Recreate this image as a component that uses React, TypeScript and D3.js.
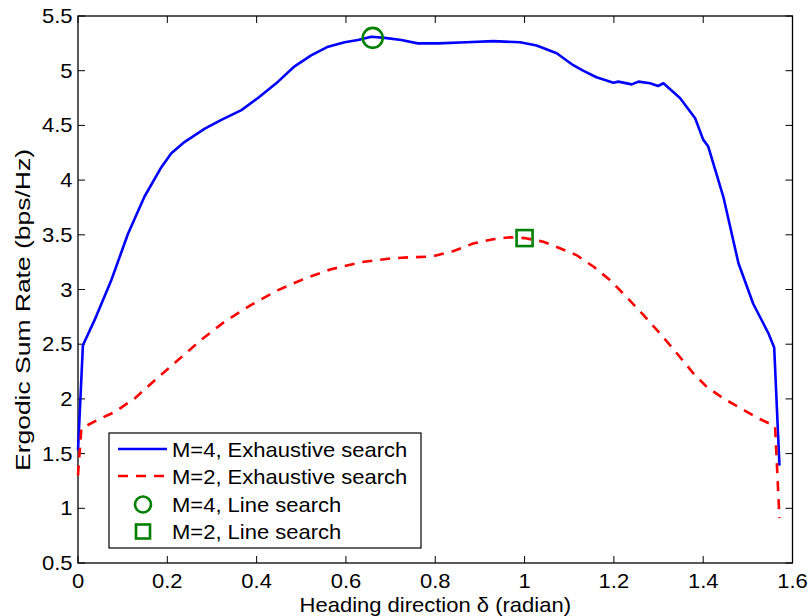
import React from "react";
import * as d3 from "d3";

// Heading direction (radian) vs ergodic sum rate
const m4X = [0, 0.011, 0.037, 0.075, 0.112, 0.149, 0.187, 0.209, 0.239, 0.284, 0.321, 0.366, 0.403, 0.448, 0.485, 0.522, 0.56, 0.597, 0.627, 0.657, 0.687, 0.724, 0.761, 0.806, 0.87, 0.93, 0.99, 1.027, 1.072, 1.109, 1.131, 1.161, 1.199, 1.21, 1.24, 1.255, 1.281, 1.299, 1.311, 1.348, 1.382, 1.4, 1.411, 1.445, 1.479, 1.512, 1.546, 1.559, 1.5708];
const m4Rate = [1.53, 2.49, 2.72, 3.09, 3.51, 3.85, 4.12, 4.245, 4.35, 4.47, 4.55, 4.64, 4.75, 4.9, 5.04, 5.14, 5.22, 5.26, 5.28, 5.31, 5.3, 5.28, 5.25, 5.25, 5.26, 5.27, 5.26, 5.23, 5.16, 5.05, 5.0, 4.94, 4.89, 4.9, 4.875, 4.9, 4.885, 4.86, 4.885, 4.75, 4.565, 4.37, 4.31, 3.85, 3.24, 2.87, 2.6, 2.47, 1.39];

const m2X = [0, 0.0075, 0.045, 0.082, 0.127, 0.172, 0.224, 0.276, 0.328, 0.388, 0.448, 0.508, 0.567, 0.634, 0.702, 0.746, 0.79, 0.84, 0.885, 0.93, 0.967, 1.0, 1.042, 1.079, 1.116, 1.154, 1.191, 1.228, 1.266, 1.303, 1.341, 1.378, 1.408, 1.445, 1.49, 1.527, 1.561, 1.5708];
const m2Rate = [1.3, 1.73, 1.81, 1.88, 2.005, 2.17, 2.355, 2.54, 2.705, 2.86, 2.995, 3.1, 3.185, 3.25, 3.285, 3.295, 3.3, 3.35, 3.42, 3.46, 3.477, 3.47, 3.437, 3.377, 3.315, 3.21, 3.087, 2.934, 2.767, 2.6, 2.417, 2.234, 2.11, 2.005, 1.9, 1.816, 1.75, 0.91];

// Line-search results
const m4Line = { x: 0.66, y: 5.3 };
const m2Line = { x: 1.0, y: 3.47 };

const xTicks = [0, 0.2, 0.4, 0.6, 0.8, 1, 1.2, 1.4, 1.6];
const yTicks = [0.5, 1, 1.5, 2, 2.5, 3, 3.5, 4, 4.5, 5, 5.5];

const legendLabels = [
  "M=4, Exhaustive search",
  "M=2, Exhaustive search",
  "M=4, Line search",
  "M=2, Line search",
];

const W = 810;
const H = 616;
const L = 78;
const R = 792.5;
const T = 16;
const B = 563;
const FONT = "'Liberation Sans', Arial, Helvetica, sans-serif";
const FS = 20;
const GREEN = "#008000";

function Label(props: {
  x: number;
  y: number;
  anchor?: string;
  rotate?: number;
  size?: number;
  stretch?: number;
  children: React.ReactNode;
}) {
  const { x, y, anchor = "start", rotate = 0, size = FS, stretch = 1.1, children } = props;
  return (
    <text
      transform={`translate(${x},${y}) rotate(${rotate}) scale(${stretch},1)`}
      textAnchor={anchor}
      fontFamily={FONT}
      fontSize={size}
      fill="#000"
    >
      {children}
    </text>
  );
}

export default function App() {
  const x = d3.scaleLinear().domain([0, 1.6]).range([L, R]);
  const y = d3.scaleLinear().domain([0.5, 5.5]).range([B, T]);

  const line = d3
    .line<[number, number]>()
    .x((d) => x(d[0]))
    .y((d) => y(d[1]));

  const m4Path = line(m4X.map((v, i) => [v, m4Rate[i]]) as [number, number][]) || "";
  const m2Path = line(m2X.map((v, i) => [v, m2Rate[i]]) as [number, number][]) || "";

  const tickLen = 7;

  // legend layout
  const lgX = 109;
  const lgY = 433;
  const lgW = 312;
  const lgH = 115;
  const rowY = [449, 476, 504.5, 531.5];

  return (
    <svg width={W} height={H} style={{ position: "absolute", left: 0, top: 0 }}>
      <rect x={0} y={0} width={W} height={H} fill="#fff" />

      {/* axes box */}
      <rect x={L} y={T} width={R - L} height={B - T} fill="none" stroke="#000" strokeWidth={1.3} />

      {/* x ticks */}
      {xTicks.map((t) => (
        <g key={`xt${t}`}>
          <line x1={x(t)} x2={x(t)} y1={B} y2={B - tickLen} stroke="#000" strokeWidth={1} />
          <line x1={x(t)} x2={x(t)} y1={T} y2={T + tickLen} stroke="#000" strokeWidth={1} />
          <Label x={x(t)} y={588} anchor="middle">
            {String(t)}
          </Label>
        </g>
      ))}

      {/* y ticks */}
      {yTicks.map((t) => (
        <g key={`yt${t}`}>
          <line x1={L} x2={L + tickLen} y1={y(t)} y2={y(t)} stroke="#000" strokeWidth={1} />
          <line x1={R} x2={R - tickLen} y1={y(t)} y2={y(t)} stroke="#000" strokeWidth={1} />
          <Label x={72.5} y={y(t) + 7} anchor="end">
            {String(t)}
          </Label>
        </g>
      ))}

      {/* axis titles */}
      <Label x={(L + R) / 2} y={612} anchor="middle">
        Heading direction δ (radian)
      </Label>
      <Label x={30} y={310} anchor="middle" rotate={-90} size={21} stretch={1.26}>
        Ergodic Sum Rate (bps/Hz)
      </Label>

      {/* curves */}
      <path d={m4Path} fill="none" stroke="#0000ff" strokeWidth={2.6} strokeLinejoin="round" />
      <path d={m2Path} fill="none" stroke="#ff0000" strokeWidth={2.6} strokeDasharray="10,8" />

      {/* line-search markers */}
      <circle cx={x(m4Line.x)} cy={y(m4Line.y)} r={10} fill="none" stroke={GREEN} strokeWidth={2.6} />
      <rect
        x={x(m2Line.x) - 8}
        y={y(m2Line.y) - 8}
        width={16}
        height={16}
        fill="none"
        stroke={GREEN}
        strokeWidth={2.6}
      />

      {/* legend */}
      <rect x={lgX} y={lgY} width={lgW} height={lgH} fill="#fff" stroke="#000" strokeWidth={1.2} />
      <line x1={118} x2={167} y1={rowY[0]} y2={rowY[0]} stroke="#0000ff" strokeWidth={2.6} />
      <line x1={118} x2={167} y1={rowY[1]} y2={rowY[1]} stroke="#ff0000" strokeWidth={2.6} strokeDasharray="10,8" />
      <circle cx={143} cy={rowY[2]} r={8} fill="none" stroke={GREEN} strokeWidth={2.6} />
      <rect x={143 - 7} y={rowY[3] - 7} width={14} height={14} fill="none" stroke={GREEN} strokeWidth={2.6} />
      {legendLabels.map((s, i) => (
        <Label key={s} x={172} y={rowY[i] + 7.5}>
          {s}
        </Label>
      ))}
    </svg>
  );
}
